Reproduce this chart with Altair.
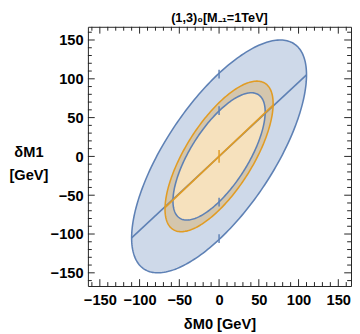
import altair as alt
import numpy as np
import pandas as pd

# ---- data ----
# confidence ellipses: sigma_x, sigma_y, correlation (centred at 0,0)
ell_names = ["outer", "orange", "inner"]
ell_sx = [110, 68, 58]
ell_sy = [150, 97, 82]
ell_rho = [0.70, 0.70, 0.70]

blue_line_x = [-110, 110]
blue_line_y = [-105, 105]
orange_line_x = [-68, 68]
orange_line_y = [-66, 66]

blue_mark_x = [0, 0, 0, 0]
blue_mark_y = [106, 59, -59, -106]
orange_mark_x = [0]
orange_mark_y = [0]

major_ticks = [-150, -100, -50, 0, 50, 100, 150]
minor_ticks = [v for v in range(-160, 161, 10) if v not in major_ticks]

X_DOMAIN = [-165, 166]
Y_DOMAIN = [-167, 167]
W, H = 270, 266

BLUE = "#5E81B5"
ORANGE = "#E19C24"
FRAME = "#222222"
FONT = "Liberation Sans"


def ellipse_df(sx, sy, rho, n=240):
    t = np.linspace(0, 2 * np.pi, n, endpoint=False)
    x = sx * np.cos(t)
    y = sy * (rho * np.cos(t) + np.sqrt(1 - rho ** 2) * np.sin(t))
    return pd.DataFrame({"x": x, "y": y, "i": np.arange(n)})


ells = {n: ellipse_df(a, b, r) for n, a, b, r in zip(ell_names, ell_sx, ell_sy, ell_rho)}

xs = alt.Scale(domain=X_DOMAIN, nice=False, zero=False)
ys = alt.Scale(domain=Y_DOMAIN, nice=False, zero=False)

x_axis = alt.Axis(values=major_ticks, ticks=False, domain=False, grid=False,
                  labelFontSize=15, labelFontWeight="bold", labelFont=FONT,
                  labelPadding=7, labelColor="black",
                  title="δM0 [GeV]", titleFontSize=15, titleFontWeight="bold",
                  titleFont=FONT, titleColor="black", titleY=44,
                  titleBaseline="alphabetic")
y_axis = alt.Axis(values=major_ticks, ticks=False, domain=False, grid=False,
                  labelFontSize=15, labelFontWeight="bold", labelFont=FONT,
                  labelPadding=5, labelColor="black",
                  title=["δM1", "[GeV]"], titleFontSize=15, titleFontWeight="bold",
                  titleFont=FONT, titleColor="black", titleAngle=0,
                  titleAlign="center", titleBaseline="middle",
                  titleX=-61, titleY=128, titleLineHeight=24)


def X(field):
    return alt.X(field, scale=xs, axis=x_axis)


def Y(field):
    return alt.Y(field, scale=ys, axis=y_axis)


def ell_layer(name, **mark):
    return alt.Chart(ells[name]).mark_line(interpolate="linear-closed", **mark).encode(
        x=X("x:Q"), y=Y("y:Q"), order=alt.Order("i:Q"))


def line_layer(xv, yv, color):
    df = pd.DataFrame({"x": xv, "y": yv})
    return alt.Chart(df).mark_line(color=color, strokeWidth=1.6).encode(
        x=X("x:Q"), y=Y("y:Q"))


def mark_layer(xv, yv, color, size):
    df = pd.DataFrame({"x": xv, "y": yv})
    return alt.Chart(df).mark_tick(orient="vertical", color=color, size=size,
                                   thickness=1.5, opacity=1).encode(
        x=X("x:Q"), y=Y("y:Q"))


def frame_ticks(vals, length):
    df = pd.DataFrame({"x": vals, "y": vals})
    base = alt.Chart(df).mark_rule(color=FRAME, strokeWidth=1)
    bottom = base.encode(x=X("x:Q"), y=alt.value(H), y2=alt.value(H - length))
    top = base.encode(x=X("x:Q"), y=alt.value(0), y2=alt.value(length))
    left = base.encode(y=Y("y:Q"), x=alt.value(0), x2=alt.value(length))
    right = base.encode(y=Y("y:Q"), x=alt.value(W), x2=alt.value(W - length))
    return [bottom, top, left, right]


layers = [
    ell_layer("outer", fill=BLUE, fillOpacity=0.3, strokeWidth=0),
    ell_layer("inner", fill="white", fillOpacity=1, strokeWidth=0),
    line_layer(blue_line_x, blue_line_y, BLUE),
    ell_layer("orange", fill=ORANGE, fillOpacity=0.3, strokeWidth=0),
    ell_layer("outer", color=BLUE, strokeWidth=1.6),
    ell_layer("inner", color=BLUE, strokeWidth=1.6),
    ell_layer("orange", color=ORANGE, strokeWidth=1.6),
    line_layer(orange_line_x, orange_line_y, ORANGE),
    mark_layer(blue_mark_x, blue_mark_y, BLUE, 9),
    mark_layer(orange_mark_x, orange_mark_y, ORANGE, 13),
]
layers += frame_ticks(major_ticks, 7)
layers += frame_ticks(minor_ticks, 4)

chart = alt.layer(*layers).properties(
    width=W, height=H,
    title=alt.TitleParams("(1,3)₀[M₋₁=1TeV]", fontSize=13, fontWeight="bold",
                          font=FONT, color="black", anchor="middle", offset=1),
    padding=0,
).configure_view(stroke=FRAME, strokeWidth=1)

chart.save("out.html", embed_options={"renderer": "svg", "actions": False})
